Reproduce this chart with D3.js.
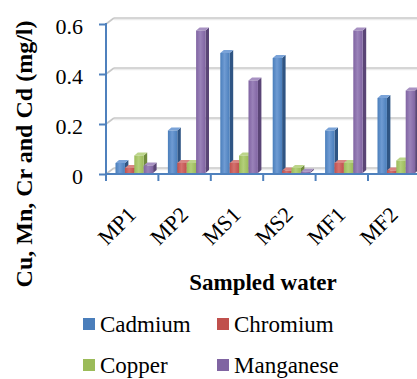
<!DOCTYPE html>
<html>
<head>
<meta charset="utf-8">
<script src="https://cdn.jsdelivr.net/npm/d3@7"></script>
<style>
  html, body { margin: 0; padding: 0; background: #fff; }
  svg text { font-family: "Times New Roman", "Liberation Serif", Tinos, "DejaVu Serif", serif !important; }
</style>
</head>
<body>
<svg id="chart" width="417" height="379"></svg>
<script>
// Sampling sites and measured concentrations (mg/l)
const categories = ["MP1", "MP2", "MS1", "MS2", "MF1", "MF2"];
const seriesNames = ["Cadmium", "Chromium", "Copper", "Manganese"];
const cadmium   = [0.04, 0.17, 0.48, 0.46, 0.17, 0.30];
const chromium  = [0.02, 0.04, 0.04, 0.01, 0.04, 0.01];
const copper    = [0.07, 0.04, 0.07, 0.02, 0.04, 0.05];
const manganese = [0.03, 0.57, 0.37, 0.005, 0.57, 0.33];
const yTicks = [0, 0.2, 0.4, 0.6];

const seriesValues = [cadmium, chromium, copper, manganese];
const palette = {
  Cadmium:   { front: "#4a7ebb", light: "#6f9bd3", side: "#2f5584", top: "#7aa3d8" },
  Chromium:  { front: "#c0504d", light: "#d4716e", side: "#8a3533", top: "#d88583" },
  Copper:    { front: "#9bbb59", light: "#b3cf7a", side: "#6f8a3c", top: "#bcd58a" },
  Manganese: { front: "#8064a2", light: "#9a82b9", side: "#5a4576", top: "#a791c2" }
};
const FONT = "Times New Roman, Liberation Serif, Tinos, DejaVu Serif, serif";

const svg = d3.select("#chart");
const serifText = sel => sel.attr("font-family", FONT).style("font-family", FONT);

// Front plane of the plot, plus the receding depth of the back wall
const plotLeft = 106, plotRight = 417;
const depth = { dx: 8, dy: -6 };
const barDepth = { dx: 3.5, dy: -3 };

const y = d3.scaleLinear().domain([0, 0.6]).range([174, 24]);
const x = d3.scaleBand().domain(categories).range([plotLeft, plotLeft + 6 * 52.4]);
const inner = d3.scaleBand().domain(seriesNames).range([9.5, 9.5 + 4 * 9.4]);

// Gradients for the bar fronts
const defs = svg.append("defs");
seriesNames.forEach(name => {
  const c = palette[name];
  const g = defs.append("linearGradient")
    .attr("id", "grad-" + name).attr("x1", 0).attr("x2", 1).attr("y1", 0).attr("y2", 0);
  g.append("stop").attr("offset", "0%").attr("stop-color", c.front);
  g.append("stop").attr("offset", "45%").attr("stop-color", c.light);
  g.append("stop").attr("offset", "100%").attr("stop-color", c.front);
});

// Back-wall gridlines with the short diagonal joining each to the axis
const grid = svg.append("g");
yTicks.forEach(t => {
  const yy = y(t);
  grid.append("line")
    .attr("x1", plotLeft + depth.dx).attr("x2", plotRight)
    .attr("y1", yy + depth.dy + 1.5).attr("y2", yy + depth.dy + 1.5)
    .attr("stroke", "#ececec").attr("stroke-width", 1.5);
  grid.append("line")
    .attr("x1", plotLeft + depth.dx).attr("x2", plotRight)
    .attr("y1", yy + depth.dy).attr("y2", yy + depth.dy)
    .attr("stroke", "#c8c8c8").attr("stroke-width", 1.6);
  grid.append("line")
    .attr("x1", plotLeft).attr("y1", yy)
    .attr("x2", plotLeft + depth.dx).attr("y2", yy + depth.dy)
    .attr("stroke", "#c8c8c8").attr("stroke-width", 1.6);
});

// 3-D bars: front face, right side, top
const barsG = svg.append("g");
const baseY = y(0) - 1;
categories.forEach((cat, i) => {
  seriesNames.forEach((name, s) => {
    const v = seriesValues[s][i];
    const c = palette[name];
    const x0 = x(cat) + inner(name);
    const w = inner.bandwidth();
    const yt = y(v) - 1;
    const g = barsG.append("g");
    // side face
    g.append("path")
      .attr("d", `M${x0 + w},${yt} L${x0 + w + barDepth.dx},${yt + barDepth.dy} L${x0 + w + barDepth.dx},${baseY + barDepth.dy} L${x0 + w},${baseY} Z`)
      .attr("fill", c.side);
    // top face
    g.append("path")
      .attr("d", `M${x0},${yt} L${x0 + barDepth.dx},${yt + barDepth.dy} L${x0 + w + barDepth.dx},${yt + barDepth.dy} L${x0 + w},${yt} Z`)
      .attr("fill", c.top);
    // front face
    g.append("rect")
      .attr("x", x0).attr("y", yt)
      .attr("width", w).attr("height", Math.max(0, baseY - yt))
      .attr("fill", `url(#grad-${name})`);
  });
});

// Value axis
const axisColor = "#4f81bd";
const yAxis = svg.append("g")
  .attr("transform", `translate(${plotLeft},0)`)
  .call(d3.axisLeft(y).tickValues(yTicks).tickSize(7).tickPadding(16)
    .tickFormat(d => d === 0 ? "0" : d3.format(".1f")(d)));
yAxis.attr("font-family", FONT).attr("font-size", 22);
yAxis.select(".domain").remove();
yAxis.selectAll(".tick line").attr("stroke", axisColor).attr("stroke-width", 2);
yAxis.selectAll(".tick text")
  .call(serifText)
  .attr("font-size", 22)
  .attr("fill", "#000")
  .attr("dy", "0.42em");
svg.append("line")
  .attr("x1", plotLeft).attr("x2", plotLeft)
  .attr("y1", y(0.6) - 1).attr("y2", y(0) + 7)
  .attr("stroke", axisColor).attr("stroke-width", 2);

// Category axis
svg.append("line")
  .attr("x1", plotLeft).attr("x2", plotRight)
  .attr("y1", y(0)).attr("y2", y(0))
  .attr("stroke", axisColor).attr("stroke-width", 2);
const bounds = categories.map(c => x(c)).concat([x.range()[1]]);
bounds.forEach(bx => {
  svg.append("line")
    .attr("x1", bx).attr("x2", bx)
    .attr("y1", y(0)).attr("y2", y(0) + 7)
    .attr("stroke", axisColor).attr("stroke-width", 2);
});
categories.forEach(cat => {
  const cx = x(cat) + x.bandwidth() / 2 + 5;
  svg.append("text")
    .call(serifText)
    .attr("transform", `translate(${cx},216) rotate(-45)`)
    .attr("text-anchor", "end")
    .attr("font-size", 22)
    .attr("fill", "#000")
    .text(cat);
});

// Axis titles
svg.append("text")
  .call(serifText)
  .attr("transform", "translate(32,154) rotate(-90)")
  .attr("text-anchor", "middle")
  .attr("font-size", 24).attr("font-weight", "bold")
  .text("Cu, Mn, Cr and Cd (mg/l)");
svg.append("text")
  .call(serifText)
  .attr("x", 263).attr("y", 290)
  .attr("text-anchor", "middle")
  .attr("font-size", 23).attr("font-weight", "bold")
  .text("Sampled water");

// Legend, two columns by two rows
const legendPos = [[83, 332], [217, 332], [83, 373], [217, 373]];
seriesNames.forEach((name, s) => {
  const [lx, ly] = legendPos[s];
  svg.append("rect")
    .attr("x", lx).attr("y", ly - 14)
    .attr("width", 12).attr("height", 12)
    .attr("fill", palette[name].front);
  svg.append("text")
    .call(serifText)
    .attr("x", lx + 17).attr("y", ly)
    .attr("font-size", 23).attr("fill", "#000")
    .text(name);
});
</script>
</body>
</html>
